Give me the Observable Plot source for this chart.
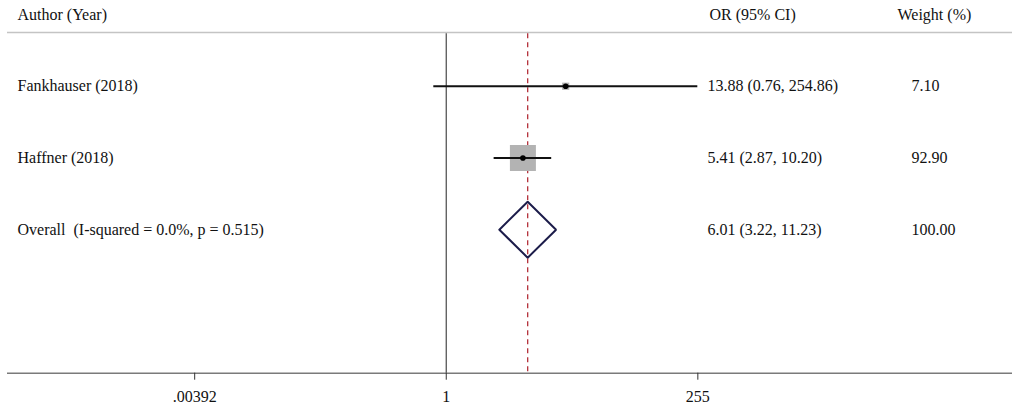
<!DOCTYPE html>
<html>
<head>
<meta charset="utf-8">
<script src="https://cdn.jsdelivr.net/npm/d3@7"></script>
<script src="https://cdn.jsdelivr.net/npm/@observablehq/plot@0.6"></script>
<style>
  html, body { margin: 0; padding: 0; background: #fff; }
  svg { white-space: pre; }
</style>
</head>
<body>
<div id="chart"></div>
<script>
// ---- data ----
const studies = ["Fankhauser (2018)", "Haffner (2018)"];
const studyOR = [13.88, 5.41];
const studyLo = [0.76, 2.87];
const studyHi = [254.86, 10.20];
const studyWeight = [7.10, 92.90];
const studyText = ["13.88 (0.76, 254.86)", "5.41 (2.87, 10.20)"];
const studyWeightText = ["7.10", "92.90"];

const overallLabel = "Overall  (I-squared = 0.0%, p = 0.515)";
const overallOR = 6.01;
const overallLo = 3.22;
const overallHi = 11.23;
const overallText = "6.01 (3.22, 11.23)";
const overallWeightText = "100.00";

const headers = ["Author (Year)", "OR (95% CI)", "Weight (%)"];
const tickValues = [0.00392, 1, 255];
const tickLabels = [".00392", "1", "255"];
const xDomain = [6.35e-5, 2.61e5];

// ---- tables ----
const rows = studies.map((s, i) => ({
  row: i + 1, label: s, or: studyOR[i], lo: studyLo[i], hi: studyHi[i],
  w: studyWeight[i], text: studyText[i], wtext: studyWeightText[i]
}));
const overallRow = rows.length + 1;
const labelRows = [
  ...rows.map(d => ({row: d.row, label: d.label, text: d.text, wtext: d.wtext})),
  {row: overallRow, label: overallLabel, text: overallText, wtext: overallWeightText}
];
const dh = 0.39;
const diamond = [
  {x: overallLo, y: overallRow},
  {x: overallOR, y: overallRow - dh},
  {x: overallHi, y: overallRow},
  {x: overallOR, y: overallRow + dh},
  {x: overallLo, y: overallRow}
];
const bottomRow = 5;
const topLine = 0.25;
const headerRows = [
  {text: headers[0], col: 0},
  {text: headers[1], col: 1},
  {text: headers[2], col: 2}
];
const tickRows = tickValues.map((v, i) => ({v, label: tickLabels[i]}));

const font = "'Liberation Serif', 'Times New Roman', serif";

const chart = Plot.plot({
  width: 1020,
  height: 409,
  marginLeft: 7,
  marginRight: 8,
  marginTop: 14,
  marginBottom: 36.3,
  style: {fontFamily: font, fontSize: "16px", color: "#111", background: "#fff"},
  x: {type: "log", domain: xDomain, axis: null},
  y: {type: "linear", domain: [bottomRow, 0], axis: null},
  r: {type: "sqrt", domain: [0, 100], range: [0, 15.22]},
  marks: [
    // header separator
    Plot.ruleY([topLine], {stroke: "#c4c4c4", strokeWidth: 1.5}),
    // axis baseline
    Plot.ruleY([bottomRow], {stroke: "#7a7a7a", strokeWidth: 1.5}),
    // null line
    Plot.ruleX([1], {y1: topLine + 0.02, y2: bottomRow, stroke: "#555", strokeWidth: 1.3}),
    // overall dashed
    Plot.ruleX([overallOR], {y1: topLine + 0.02, y2: bottomRow, stroke: "#b3303a", strokeWidth: 1.3, strokeDasharray: "5,4"}),
    // weight squares
    Plot.dot(rows, {x: "or", y: "row", r: "w", symbol: "square", fill: "#b3b3b3", stroke: "none"}),
    // CI lines
    Plot.ruleY(rows, {x1: "lo", x2: "hi", y: "row", stroke: "#111", strokeWidth: 2}),
    // point estimate
    Plot.dot(rows, {x: "or", y: "row", r: 2.8, fill: "#000", stroke: "none"}),
    // diamond
    Plot.line(diamond, {x: "x", y: "y", stroke: "#1c1c4a", strokeWidth: 2, strokeLinejoin: "miter"}),
    // axis ticks
    Plot.axisX({ticks: tickValues, tickFormat: null, text: null, tickSize: 7, stroke: "#333", anchor: "bottom"}),
    // axis tick labels
    Plot.text(tickRows, {x: "v", y: () => bottomRow, text: "label", dy: 24, fill: "#111"}),
    // headers
    Plot.text(headerRows.filter(d => d.col === 0), {text: "text", y: () => 0, frameAnchor: "left", dx: 10, textAnchor: "start", fill: "#111"}),
    Plot.text(headerRows.filter(d => d.col === 1), {text: "text", y: () => 0, frameAnchor: "left", dx: 702, textAnchor: "start", fill: "#111"}),
    Plot.text(headerRows.filter(d => d.col === 2), {text: "text", y: () => 0, frameAnchor: "left", dx: 890, textAnchor: "start", fill: "#111"}),
    // rows
    Plot.text(labelRows, {text: "label", y: "row", frameAnchor: "left", dx: 10, textAnchor: "start", fill: "#111"}),
    Plot.text(labelRows, {text: "text", y: "row", frameAnchor: "left", dx: 700, textAnchor: "start", fill: "#111"}),
    Plot.text(labelRows, {text: "wtext", y: "row", frameAnchor: "left", dx: 904, textAnchor: "start", fill: "#111"})
  ]
});
document.getElementById("chart").appendChild(chart);
</script>
</body>
</html>
